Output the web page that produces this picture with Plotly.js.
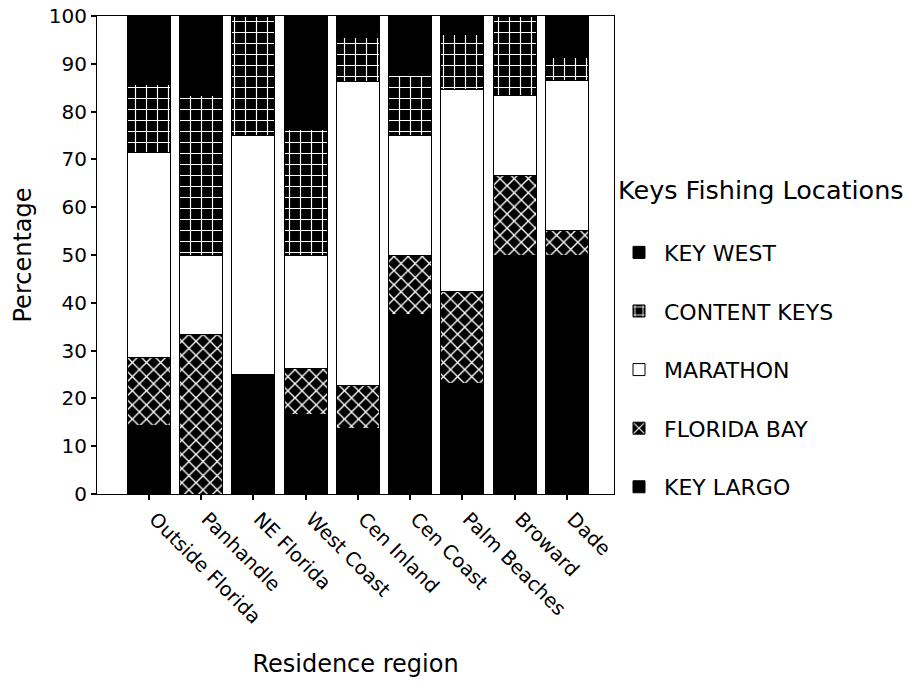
<!DOCTYPE html>
<html>
<head>
<meta charset="utf-8">
<script src="https://cdn.plot.ly/plotly-3.0.1.min.js"></script>
<style>html,body{margin:0;padding:0;background:#fff;}#chart{width:909px;height:683px;}</style>
</head>
<body>
<div id="chart"></div>
<script>
const regions = ["Outside Florida", "Panhandle", "NE Florida", "West Coast", "Cen Inland", "Cen Coast", "Palm Beaches", "Broward", "Dade"];
const keyLargo    = [14.3, 0,    25, 16.7, 13.6, 37.5, 23.1, 50,   50];
const floridaBay  = [14.3, 33.3, 0,  9.5,  9.1,  12.5, 19.2, 16.7, 5.2];
const marathon    = [42.9, 16.7, 50, 23.8, 63.6, 25,   42.3, 16.6, 31.4];
const contentKeys = [14.2, 33.3, 25, 26.2, 9.1,  12.5, 11.6, 16.7, 4.8];
const keyWest     = [14.3, 16.7, 0,  23.8, 4.6,  12.5, 3.8,  0,    8.6];
const legendTitle = "Keys Fishing Locations";

const font = "DejaVu Sans, Liberation Sans, Arial, sans-serif";
const edge = {color: "black", width: 1};

function mk(name, y, color, rank, pattern) {
  const m = {color: color, line: edge};
  if (pattern) m.pattern = pattern;
  return {type: "bar", name: name, x: regions, y: y, marker: m, legendgroup: name, legendrank: rank, hoverinfo: "skip"};
}

const traces = [
  mk("KEY LARGO", keyLargo, "black", 5),
  mk("FLORIDA BAY", floridaBay, "black", 4, {shape: "x", fgcolor: "white", bgcolor: "black", size: 10, solidity: 0.25, fillmode: "replace"}),
  mk("MARATHON", marathon, "white", 3),
  mk("CONTENT KEYS", contentKeys, "black", 2, {shape: "+", fgcolor: "white", bgcolor: "black", size: 11, solidity: 0.2, fillmode: "replace"}),
  mk("KEY WEST", keyWest, "black", 1)
];

const layout = {
  width: 909, height: 683,
  margin: {l: 97, r: 295, t: 16, b: 189},
  paper_bgcolor: "white", plot_bgcolor: "white",
  barmode: "stack", bargap: 0.177,
  font: {family: font, color: "black", size: 18},
  xaxis: {
    type: "category", range: [-0.995, 8.9],
    showline: true, linecolor: "black", linewidth: 1, mirror: true,
    ticks: "outside", ticklen: 5, tickwidth: 2, tickcolor: "black",
    tickangle: 45, tickfont: {size: 19.5, family: font}, ticklabelshift: 6,
    showgrid: false, zeroline: false,
    title: {text: "Residence region", font: {size: 24, family: font}, standoff: 27}
  },
  yaxis: {
    range: [0, 100], dtick: 10,
    showline: true, linecolor: "black", linewidth: 1, mirror: true,
    ticks: "outside", ticklen: 5, tickwidth: 2, tickcolor: "black",
    tickfont: {size: 20, family: font},
    showgrid: false, zeroline: false,
    title: {text: "Percentage", font: {size: 24, family: font}, standoff: 10}
  },
  showlegend: true,
  legend: {
    x: 1.0, xanchor: "left", y: 0.549, yanchor: "top",
    traceorder: "grouped", tracegroupgap: 27,
    font: {size: 22, family: font},
    bgcolor: "rgba(0,0,0,0)", itemwidth: 40
  },
  annotations: [{
    text: legendTitle, xref: "paper", yref: "paper", x: 1.003, y: 0.635,
    xanchor: "left", yanchor: "middle", showarrow: false,
    font: {size: 25.5, family: font}
  }]
};

Plotly.newPlot("chart", traces, layout, {displayModeBar: false, staticPlot: true});
</script>
</body>
</html>
